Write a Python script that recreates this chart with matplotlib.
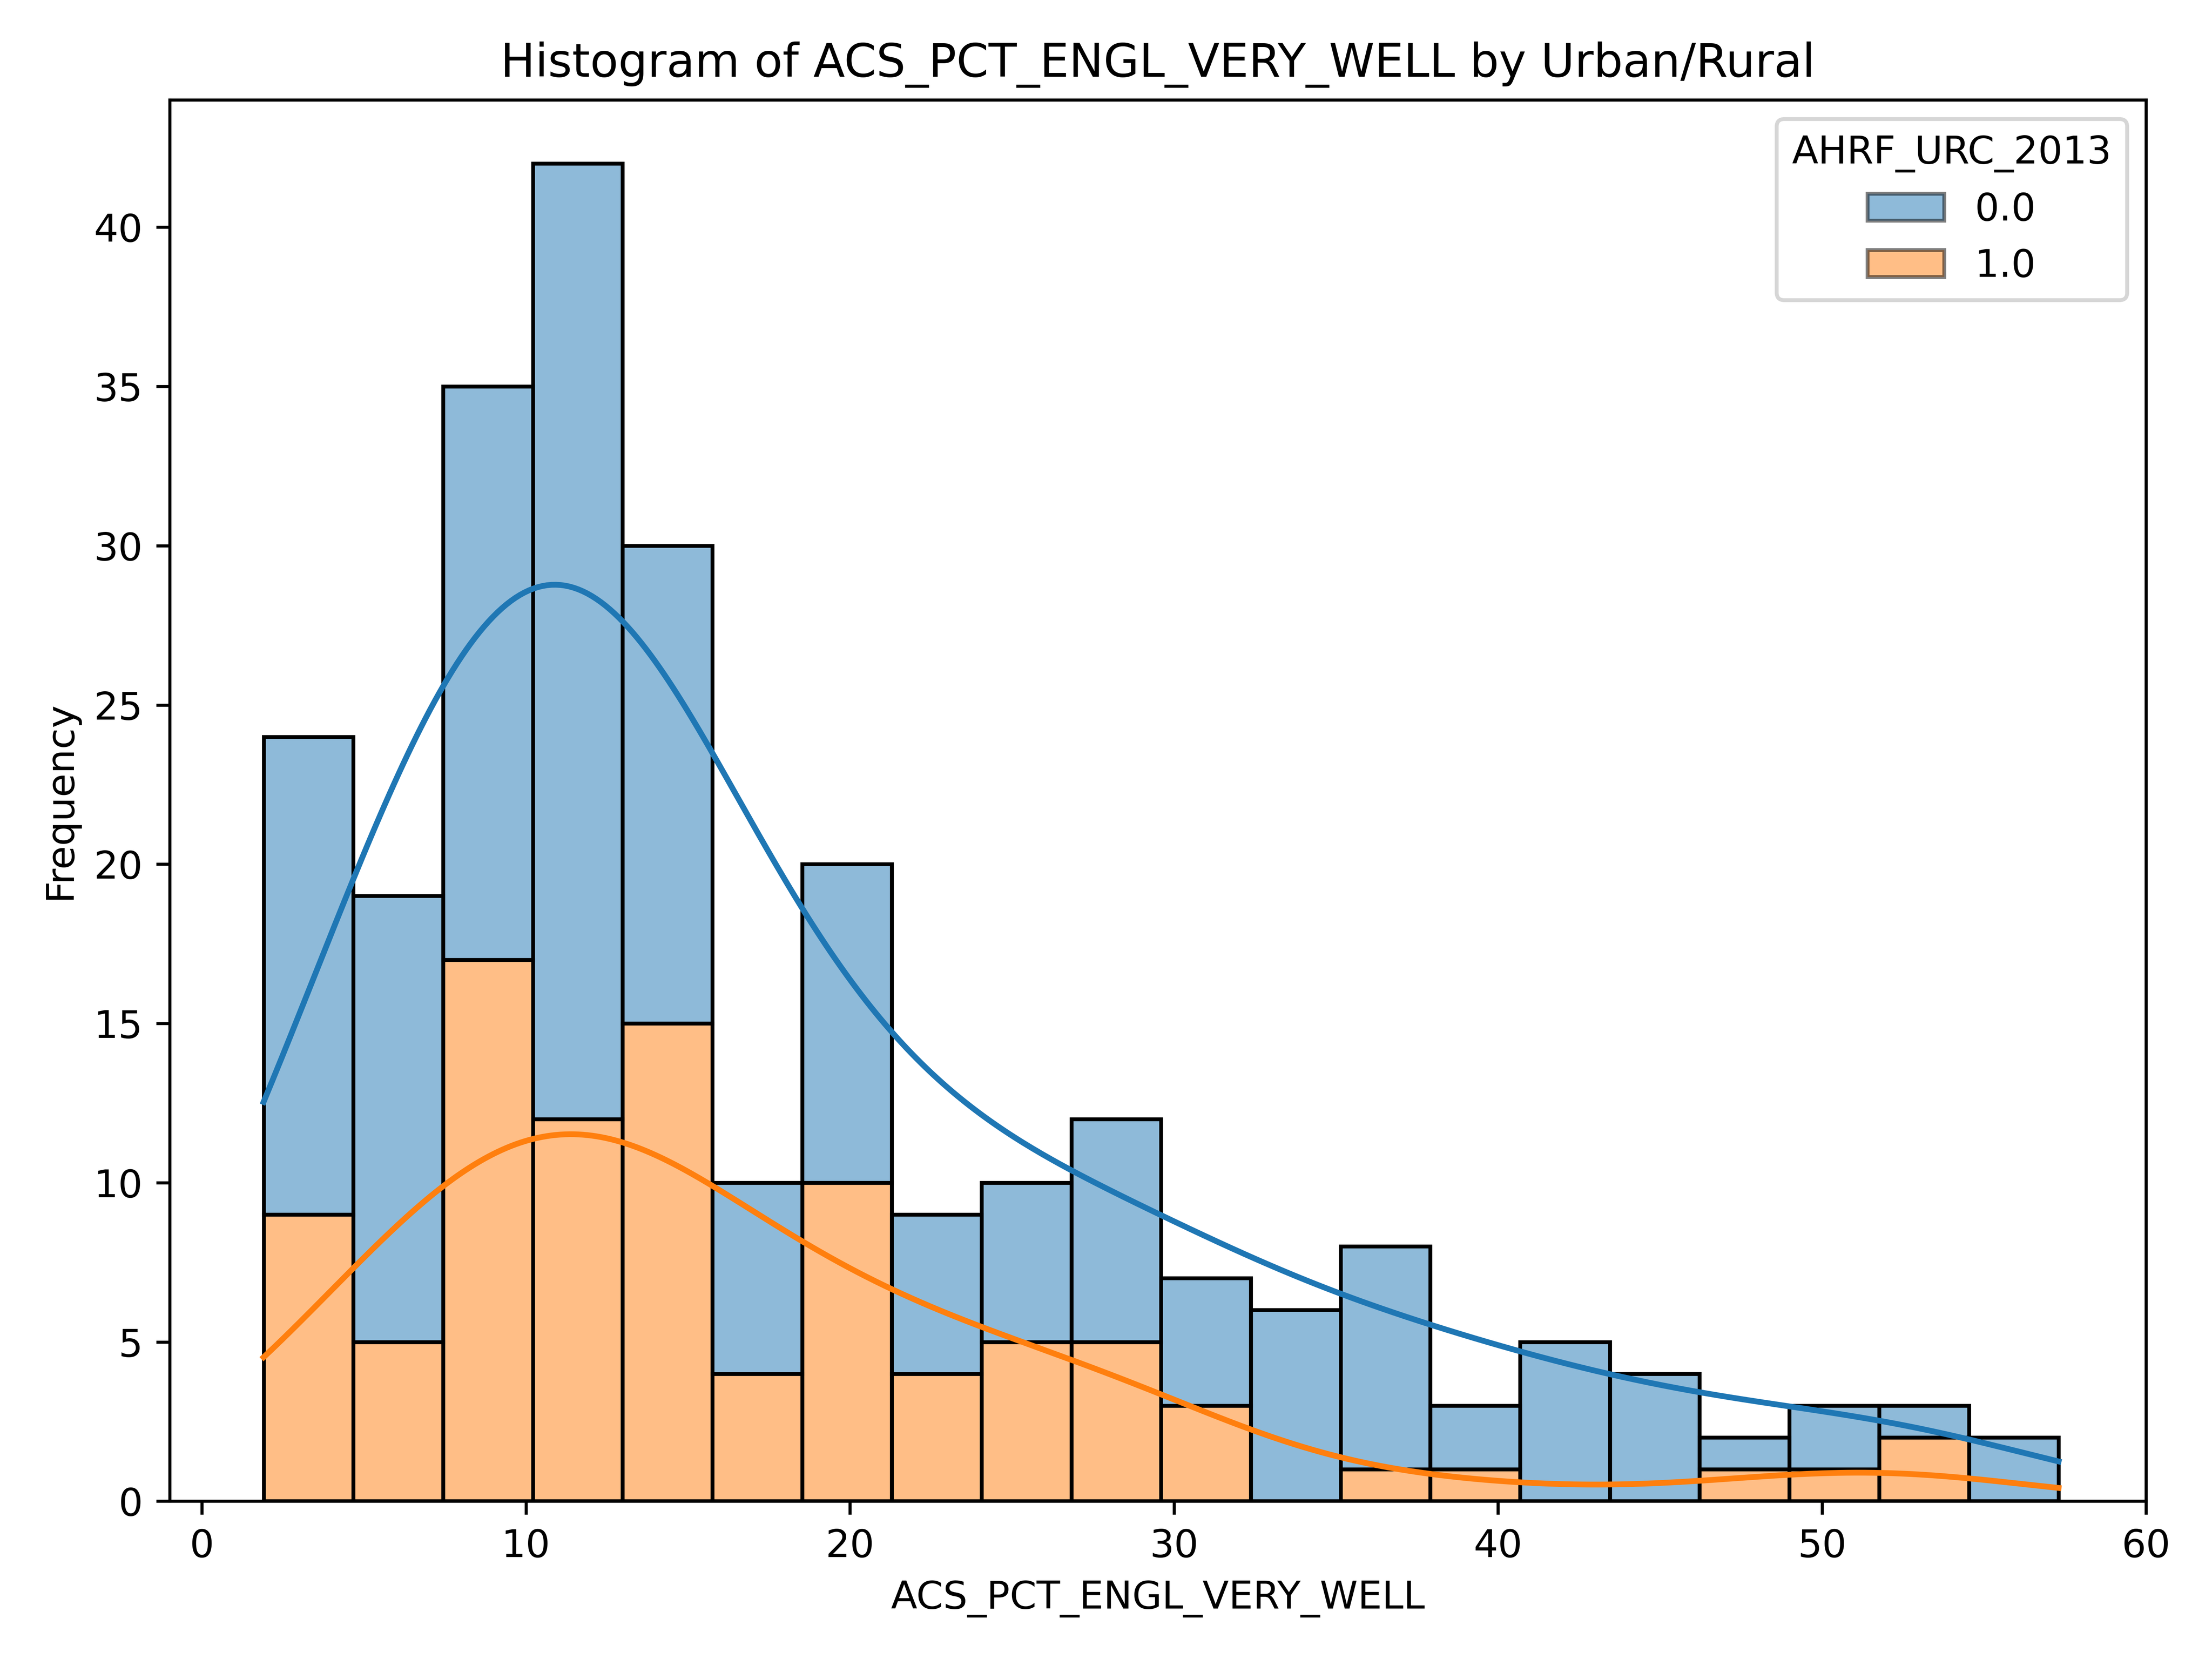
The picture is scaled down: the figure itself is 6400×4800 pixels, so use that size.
import numpy as np
import matplotlib
matplotlib.use("Agg")
import matplotlib.pyplot as plt
from matplotlib.patches import Patch

x_min, x_max, n_bins = 1.9, 57.3, 20
total_counts = [24,19,35,42,30,10,20,9,10,12,7,6,8,3,5,4,2,3,3,2]
rural_counts = [9,5,17,12,15,4,10,4,5,5,3,0,1,1,0,0,1,1,2,0]
urban_counts = [t-r for t, r in zip(total_counts, rural_counts)]

edges = np.linspace(x_min, x_max, n_bins+1)
w = edges[1]-edges[0]
centers = (edges[:-1]+edges[1:])/2
blue = '#1f77b4'; orange = '#ff7f0e'

fig, ax = plt.subplots(figsize=(8, 6), dpi=800)
ax.bar(edges[:-1], rural_counts, width=w, align='edge', color=orange, alpha=0.5, edgecolor='none')
ax.bar(edges[:-1], urban_counts, width=w, align='edge', bottom=rural_counts, color=blue, alpha=0.5, edgecolor='none')
ax.bar(edges[:-1], rural_counts, width=w, align='edge', fill=False, edgecolor='black', linewidth=1)
ax.bar(edges[:-1], urban_counts, width=w, align='edge', bottom=rural_counts, fill=False, edgecolor='black', linewidth=1)

def kde(counts, grid):
    c = np.array(counts, float)
    n = c.sum()
    mean = (c*centers).sum()/n
    sd = np.sqrt((c*(centers-mean)**2).sum()/n)
    bw = sd*n**(-1/5)
    d = (c[:, None]*np.exp(-0.5*((grid[None, :]-centers[:, None])/bw)**2)).sum(0)/(n*bw*np.sqrt(2*np.pi))
    return d*n*w

grid = np.linspace(x_min, x_max, 400)
kr = kde(rural_counts, grid)
ku = kde(urban_counts, grid)
ax.plot(grid, kr, color=orange, lw=1.5)
ax.plot(grid, kr+ku, color=blue, lw=1.5)

ax.set_xlim(-1, 60)
ax.set_ylim(0, 44)
ax.set_title('Histogram of ACS_PCT_ENGL_VERY_WELL by Urban/Rural')
ax.set_xlabel('ACS_PCT_ENGL_VERY_WELL')
ax.set_ylabel('Frequency')
handles = [Patch(facecolor=blue, alpha=0.5, edgecolor='black'),
           Patch(facecolor=orange, alpha=0.5, edgecolor='black')]
ax.legend(handles, ['0.0', '1.0'], title='AHRF_URC_2013', loc='upper right')
fig.tight_layout()
fig.savefig('out.png')
